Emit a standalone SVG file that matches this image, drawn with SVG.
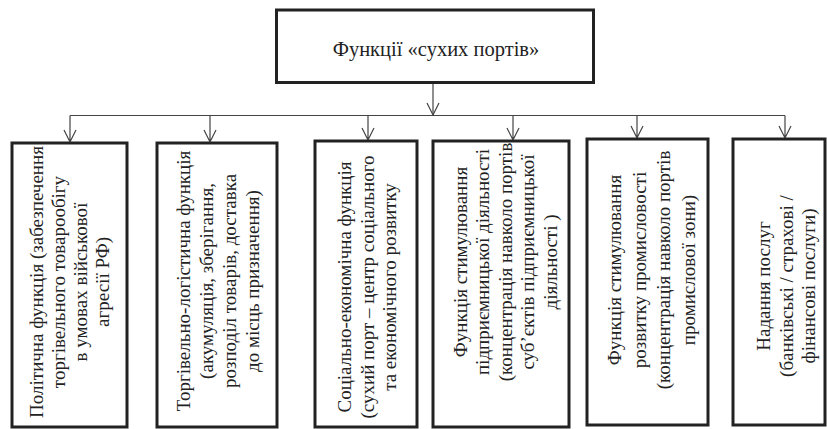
<svg xmlns="http://www.w3.org/2000/svg" width="827" height="429" viewBox="0 0 827 429">
<style>
.box{fill:#fff;stroke:#222;stroke-width:3}
.ln{fill:none;stroke:#444;stroke-width:1.2}
</style>
<rect width="827" height="429" fill="#fff"/>
<g id="connectors">
<line class="ln" x1="433" y1="83" x2="433" y2="115"/>
<path class="ln" d="M427,103 L433,115 L439,103"/>
<line class="ln" x1="70" y1="115.5" x2="785" y2="115.5"/>
<path class="ln" d="M70,115.5 V142 M64,130 L70,142 L76,130"/>
<path class="ln" d="M210,115.5 V142 M204,130 L210,142 L216,130"/>
<path class="ln" d="M368,115.5 V140 M362,128 L368,140 L374,128"/>
<path class="ln" d="M513,115.5 V140 M507,128 L513,140 L519,128"/>
<path class="ln" d="M637,115.5 V138 M631,126 L637,138 L643,126"/>
<path class="ln" d="M785,115.5 V138 M779,126 L785,138 L791,126"/>
</g>
<g font-family="Liberation Serif, Times New Roman, serif" font-size="19" fill="#222" text-anchor="middle" dominant-baseline="central">
<g id="root">
<rect class="box" x="276.5" y="10" width="317" height="72.5"/>
<text x="436" y="49" font-size="20.5">Функції «сухих портів»</text>
</g>
<g id="n1">
<rect class="box" x="12" y="143" width="115" height="284"/>
<g transform="translate(0,282) rotate(-90)">
<text x="0" y="36">Політична функція (забезпечення</text>
<text x="0" y="58">торгівельного товарообігу</text>
<text x="0" y="80">в умовах військової</text>
<text x="0" y="102">агресії РФ)</text>
</g>
</g>
<g id="n2">
<rect class="box" x="157" y="143" width="120" height="284"/>
<g transform="translate(0,281) rotate(-90)">
<text x="0" y="183">Торгівельно-логістична функція</text>
<text x="0" y="206">(акумуляція, зберігання,</text>
<text x="0" y="229">розподіл товарів, доставка</text>
<text x="0" y="252">до місць призначення)</text>
</g>
</g>
<g id="n3">
<rect class="box" x="315" y="141" width="102" height="286"/>
<g transform="translate(0,287) rotate(-90)">
<text x="0" y="344">Соціально-економічна функція</text>
<text x="0" y="367">(сухий порт – центр соціального</text>
<text x="0" y="389">та економічного розвитку</text>
</g>
</g>
<g id="n4">
<rect class="box" x="433" y="141" width="136" height="286"/>
<g transform="translate(0,262) rotate(-90)">
<text x="0" y="460">Функція стимулювання</text>
<text x="0" y="482.5">підприємницької діяльності</text>
<text x="0" y="505">(концентрація навколо портів</text>
<text x="0" y="527.5">суб’єктів підприємницької</text>
<text x="0" y="550">діяльності )</text>
</g>
</g>
<g id="n5">
<rect class="box" x="587" y="139" width="121" height="286"/>
<g transform="translate(0,270) rotate(-90)">
<text x="0" y="614">Функція стимулювання</text>
<text x="0" y="639">розвитку промисловості</text>
<text x="0" y="663">(концентрація навколо портів</text>
<text x="0" y="688">промислової зони)</text>
</g>
</g>
<g id="n6">
<rect class="box" x="733" y="139" width="92" height="286"/>
<g transform="translate(0,286) rotate(-90)">
<text x="0" y="763">Надання послуг</text>
<text x="0" y="786">(банківські / страхові /</text>
<text x="0" y="808">фінансові послуги)</text>
</g>
</g>
</g>
</svg>
